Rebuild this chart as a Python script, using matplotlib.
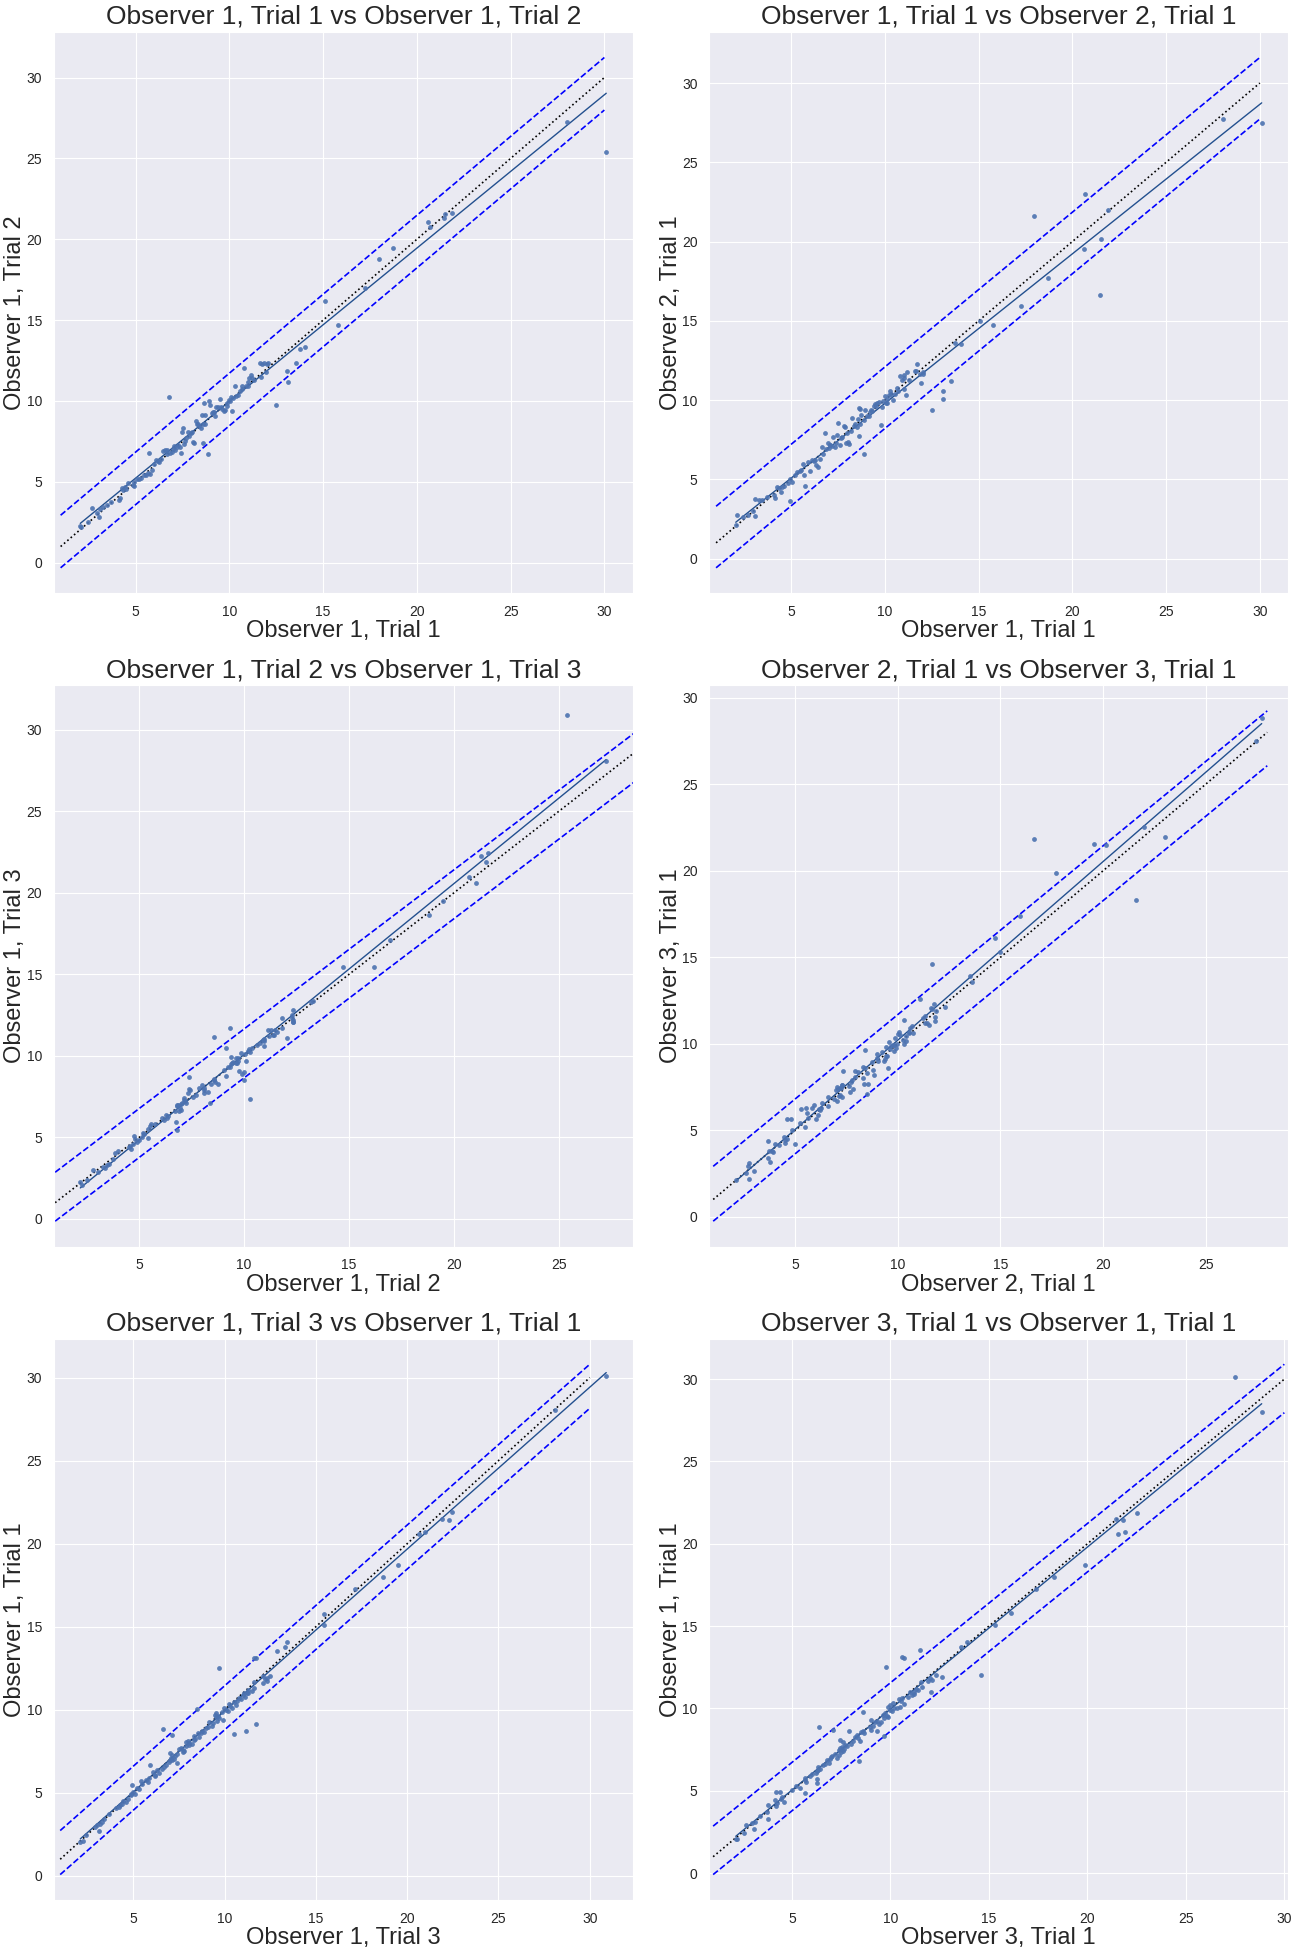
import numpy as np
import matplotlib
matplotlib.use("Agg")
import matplotlib.pyplot as plt
import seaborn as sns

# Measurements per subject (same order in every list)
obs1_trial1 = [30.1, 28.02, 21.89, 21.51, 21.45, 20.7, 20.61, 18.71, 17.98, 17.25,
               15.77, 15.08, 14.06, 13.75, 13.53, 13.11, 13.09, 12.5, 12.03,
               2.05, 2.1, 2.45, 2.68, 2.95, 3.05, 3.1, 3.27, 3.45, 4.1,
               4.15, 4.25, 4.35, 4.45, 4.6, 4.85, 4.93, 4.94, 5.2, 5.3,
               5.45, 5.65, 5.7, 5.75, 5.9, 6.0, 6.1, 6.2, 6.35, 6.45,
               6.55, 6.65, 6.79, 6.85, 6.95, 7.0, 7.1, 7.2, 7.25, 7.35,
               7.41, 7.45, 7.52, 7.6, 7.7, 7.8, 7.85, 7.95, 8.05, 8.1,
               8.2, 8.25, 8.35, 8.5, 8.55, 8.61, 8.62, 8.65, 8.7, 8.72,
               8.87, 8.9, 8.95, 9.05, 9.15, 9.2, 9.3, 9.4, 9.5, 9.6,
               9.7, 9.78, 9.85, 9.9, 10.0, 10.05, 10.1, 10.12, 10.2, 10.3,
               10.45, 10.55, 10.65, 10.79, 10.9, 11.0, 11.03, 11.14, 11.2, 11.3,
               11.61, 11.67, 11.74, 11.85, 11.93, 12.05, 11.02,
               4.5, 5.05, 5.55, 6.25, 6.7, 7.05, 7.65, 8.0, 8.4, 9.25,
               9.55, 10.35, 10.7, 3.7]
obs1_trial2 = [25.4, 27.27, 21.62, 21.54, 21.29, 20.73, 21.06, 19.47, 18.81, 16.97,
               14.72, 16.18, 13.31, 13.21, 12.34, 11.17, 11.83, 9.74, 12.3,
               2.3, 2.2, 2.5, 3.4, 3.05, 2.8, 3.3, 3.45, 3.55, 3.85,
               4.0, 4.6, 4.5, 4.7, 4.9, 4.8, 4.75, 5.0, 5.2, 5.25,
               5.45, 5.55, 6.8, 5.5, 5.75, 6.1, 6.35, 6.3, 6.4, 6.9,
               7.0, 6.75, 10.27, 6.8, 6.85, 7.05, 7.0, 7.15, 7.25, 7.15,
               6.8, 8.1, 8.3, 7.35, 7.7, 8.1, 7.85, 8.0, 7.45, 7.4,
               8.75, 8.6, 8.55, 8.36, 9.15, 8.55, 7.39, 9.9, 9.15, 8.57,
               6.7, 10.0, 9.75, 9.25, 9.34, 9.35, 9.65, 9.6, 10.1, 9.5,
               9.4, 9.45, 9.7, 9.85, 10.05, 9.98, 10.25, 9.38, 10.2, 10.95,
               10.4, 10.6, 10.95, 12.04, 10.9, 10.95, 11.42, 11.6, 11.4, 11.3,
               12.34, 11.5, 12.3, 12.32, 11.8, 12.34, 11.2,
               4.55, 5.15, 5.45, 6.2, 6.95, 7.2, 7.55, 8.1, 8.45, 9.05,
               9.6, 10.3, 10.75, 3.75]
obs1_trial3 = [30.9, 28.1, 22.44, 21.89, 22.29, 20.95, 20.62, 19.5, 18.67, 17.14,
               15.44, 15.44, 13.4, 13.3, 12.85, 11.6, 11.7, 9.71, 12.5,
               2.1, 2.25, 2.4, 3.1, 2.9, 3.0, 3.2, 3.3, 3.4, 4.05,
               4.2, 4.3, 4.4, 4.6, 4.7, 4.9, 5.1, 4.85, 5.3, 5.2,
               4.95, 5.8, 5.45, 5.7, 5.85, 6.2, 6.2, 6.4, 6.3, 6.6,
               6.7, 5.93, 7.38, 6.95, 7.0, 7.1, 7.05, 7.3, 7.1, 7.4,
               7.0, 7.7, 7.8, 7.7, 7.6, 7.9, 8.05, 8.2, 7.9, 8.0,
               8.3, 8.4, 8.6, 7.1, 10.52, 8.55, 8.7, 8.9, 8.75, 11.16,
               6.65, 9.0, 9.1, 9.3, 11.74, 9.35, 9.6, 9.9, 9.7, 9.65,
               9.5, 9.55, 9.85, 10.2, 10.1, 8.5, 10.4, 9.95, 10.3, 10.6,
               10.5, 10.7, 10.9, 11.1, 11.0, 11.05, 11.3, 11.5, 11.3, 11.6,
               12.1, 11.6, 12.3, 12.2, 12.3, 12.1, 11.25,
               4.45, 5.0, 5.5, 6.1, 6.8, 7.25, 7.5, 8.05, 8.3, 9.15,
               9.55, 10.25, 10.8, 3.65]
obs2_trial1 = [27.47, 27.73, 21.98, 20.16, 16.61, 23.0, 19.56, 17.73, 21.61, 15.96,
               14.71, 15.0, 13.52, 13.62, 11.2, 10.55, 10.05, 9.4, 11.67,
               2.1, 2.73, 2.6, 2.75, 3.0, 2.7, 3.75, 3.7, 3.69, 4.0,
               3.85, 4.5, 4.45, 4.2, 4.6, 4.8, 3.65, 5.0, 5.25, 5.45,
               5.5, 6.0, 5.3, 4.61, 6.1, 5.55, 6.2, 6.15, 5.9, 5.8,
               6.3, 7.05, 7.92, 6.9, 7.3, 7.0, 7.2, 7.1, 7.65, 7.05,
               7.3, 7.8, 8.54, 7.2, 7.7, 8.35, 8.3, 7.3, 7.35, 7.25,
               8.05, 8.85, 8.38, 8.3, 8.8, 7.76, 9.5, 9.45, 8.5, 9.05,
               6.6, 8.75, 9.35, 9.0, 9.0, 9.25, 9.3, 9.6, 9.75, 9.8,
               9.9, 8.41, 9.55, 9.95, 10.25, 9.85, 10.1, 9.8, 10.3, 10.55,
               10.0, 10.4, 10.75, 11.5, 11.3, 10.7, 11.4, 10.3, 11.8, 11.3,
               11.82, 11.85, 12.29, 11.65, 11.1, 11.75, 11.6,
               4.5, 4.85, 5.6, 6.25, 6.6, 7.15, 7.6, 7.9, 8.5, 9.4,
               9.65, 10.4, 10.6, 3.9]
obs3_trial1 = [27.5, 28.85, 22.5, 21.47, 21.81, 21.93, 21.54, 19.87, 18.31, 17.4,
               16.13, 15.31, 13.9, 13.59, 11.5, 10.6, 10.7, 9.8, 14.62,
               2.15, 2.2, 2.55, 3.1, 2.65, 2.95, 3.15, 3.8, 3.4, 4.2,
               3.8, 4.25, 4.6, 4.15, 4.5, 5.64, 4.4, 4.19, 5.4, 5.2,
               6.28, 5.65, 6.25, 5.65, 5.9, 6.0, 6.2, 6.25, 6.45, 6.3,
               6.6, 6.7, 8.43, 6.8, 6.95, 7.3, 7.05, 7.4, 7.2, 7.5,
               7.6, 7.4, 7.65, 7.45, 7.8, 7.7, 8.0, 7.6, 8.44, 7.42,
               8.35, 8.2, 9.66, 8.65, 8.5, 7.9, 8.6, 9.3, 7.07, 9.0,
               6.4, 8.95, 9.1, 9.4, 9.2, 9.5, 9.0, 9.7, 9.9, 9.6,
               9.75, 8.6, 10.1, 10.0, 10.2, 10.35, 10.5, 9.9, 10.0, 10.7,
               10.55, 10.45, 10.6, 11.1, 11.2, 11.0, 11.2, 11.4, 11.3, 11.6,
               11.55, 11.9, 12.1, 12.0, 12.61, 12.3, 12.04,
               4.45, 5.0, 5.7, 6.3, 6.9, 7.0, 7.55, 8.1, 8.3, 9.3,
               9.85, 10.15, 10.9, 3.75]

labels = {
    "o1t1": "Observer 1, Trial 1",
    "o1t2": "Observer 1, Trial 2",
    "o1t3": "Observer 1, Trial 3",
    "o2t1": "Observer 2, Trial 1",
    "o3t1": "Observer 3, Trial 1",
}
series = {
    "o1t1": obs1_trial1,
    "o1t2": obs1_trial2,
    "o1t3": obs1_trial3,
    "o2t1": obs2_trial1,
    "o3t1": obs3_trial1,
}
# pairs shown, row by row
pairs = [("o1t1", "o1t2"), ("o1t1", "o2t1"),
         ("o1t2", "o1t3"), ("o2t1", "o3t1"),
         ("o1t3", "o1t1"), ("o3t1", "o1t1")]

# agreement band lines per panel (slope, upper / lower intercept)
band_slope = [0.976, 0.976, 0.976, 0.975, 0.968, 0.967]
band_upper = [1.96, 2.33, 1.89, 1.94, 1.76, 1.89]
band_lower = [-1.29, -1.55, -1.11, -1.23, -0.89, -1.05]

sns.set_style("darkgrid")
plt.rcParams["font.family"] = ["Liberation Sans", "DejaVu Sans"]

fig, axes = plt.subplots(3, 2, figsize=(12.92, 19.5), dpi=100)
fig.subplots_adjust(left=0.0418, right=0.9969, bottom=0.0256, top=0.9836,
                    wspace=0.133, hspace=0.164)

for i, (ax, (kx, ky)) in enumerate(zip(axes.flat, pairs)):
    x = np.array(series[kx])
    y = np.array(series[ky])

    ax.scatter(x, y, s=12, color="#4c72b0", alpha=0.9, linewidths=0, zorder=3)
    xl = ax.get_xlim()

    # identity and agreement band
    top = int(max(x.max(), y.max()))
    xs = np.arange(1, top + 1)
    ax.plot(xs, xs, ":", color="black", lw=1.2)
    ax.plot(xs, band_slope[i] * xs + band_upper[i], "--", color="blue", lw=1.2)
    ax.plot(xs, band_slope[i] * xs + band_lower[i], "--", color="blue", lw=1.2)

    # least squares fit over the data range
    slope, icpt = np.polyfit(x, y, 1)
    xr = np.array([x.min(), x.max()])
    ax.plot(xr, slope * xr + icpt, "-", color="#23508f", lw=1.0)

    ax.set_xlim(xl)
    ax.set_title(f"{labels[kx]} vs {labels[ky]}", fontsize=19)
    ax.set_xlabel(labels[kx], fontsize=17)
    ax.set_ylabel(labels[ky], fontsize=17)
    ax.xaxis.set_label_coords(0.5, -0.048)
    ax.yaxis.set_label_coords(-0.048, 0.5)
    ax.tick_params(labelsize=10, pad=5)

fig.savefig("out.png", dpi=100)
